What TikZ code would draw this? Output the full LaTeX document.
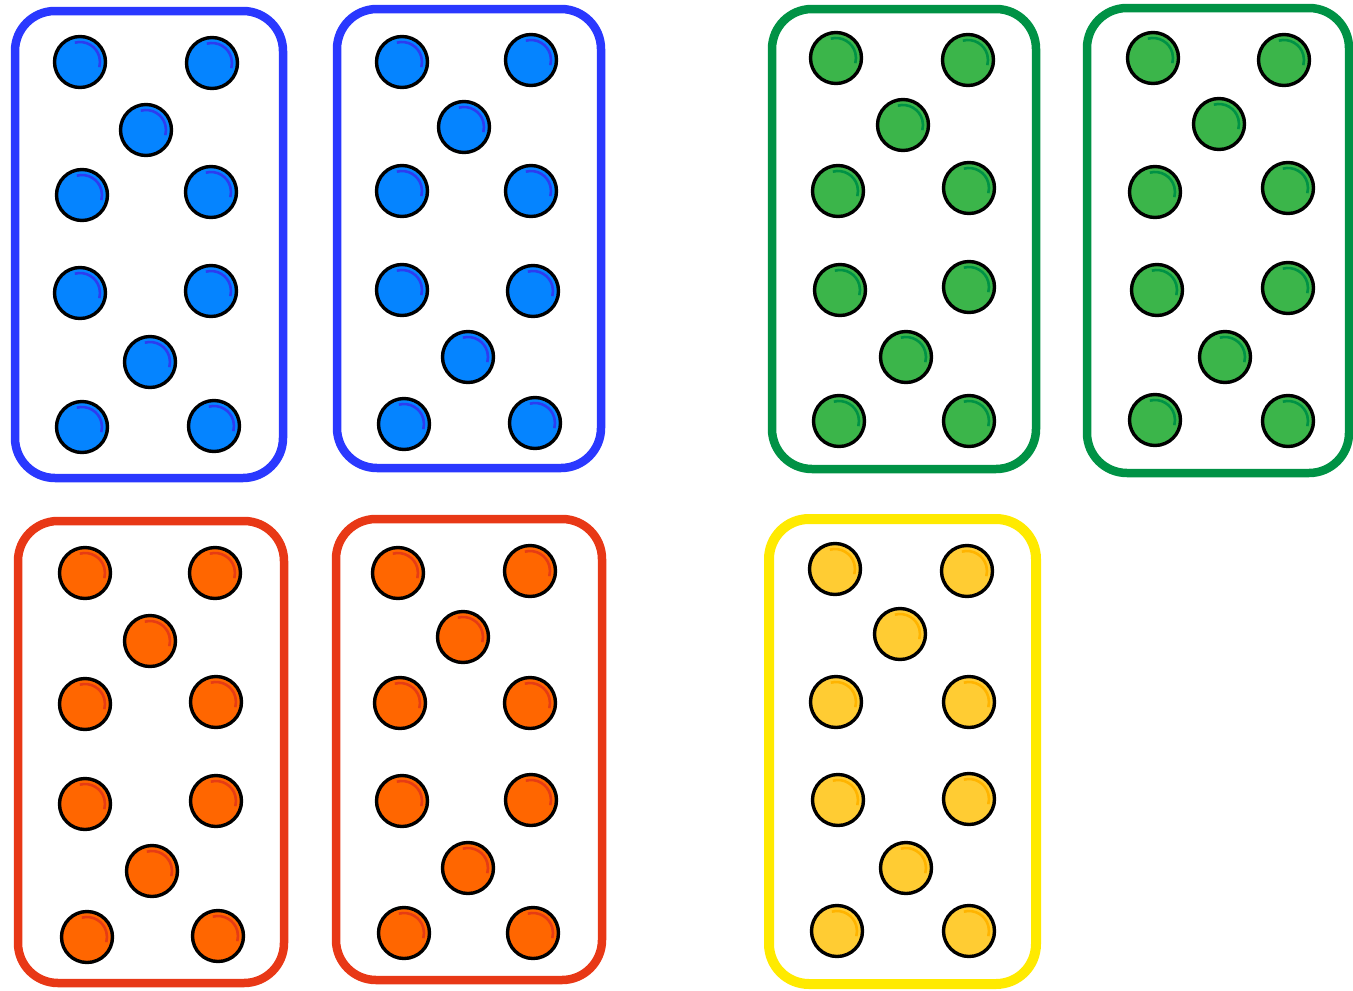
\documentclass[tikz,border=0pt]{standalone}
\definecolor{bluefill}{RGB}{5,132,255}
\definecolor{bluearc}{RGB}{45,60,240}
\definecolor{bluecard}{RGB}{42,56,255}
\definecolor{greenfill}{RGB}{59,181,74}
\definecolor{greenarc}{RGB}{0,146,69}
\definecolor{greencard}{RGB}{0,146,69}
\definecolor{orangefill}{RGB}{255,102,0}
\definecolor{orangearc}{RGB}{230,60,20}
\definecolor{redcard}{RGB}{232,56,22}
\definecolor{yellowfill}{RGB}{255,204,51}
\definecolor{yellowarc}{RGB}{255,180,0}
\definecolor{yellowcard}{RGB}{255,234,0}
\newcommand{\mydot}[4]{%
  \fill[#3] (#1,#2) circle (25.5);
  \draw[#4,line width=2.6] ([shift={(-105:20)}]#1,#2) arc (-105:15:20);
  \draw[black,line width=3.4] (#1,#2) circle (25.5);
}
\newcommand{\mycard}[6]{%
  \draw[#5,line width=#6,rounded corners=40] (#1,#2) rectangle (#3,#4);
}
\begin{document}
\begin{tikzpicture}[x=1pt,y=-1pt]
\useasboundingbox (0,0) rectangle (1353,991);
% cards
\mycard{15}{11}{283}{478}{bluecard}{8.5}
\mycard{337}{9}{601}{468}{bluecard}{8.5}
\mycard{772}{9}{1036}{469}{greencard}{8.5}
\mycard{1087}{8}{1349}{473}{greencard}{8.5}
\mycard{18}{521}{284}{983}{redcard}{8.5}
\mycard{336}{519}{602}{980}{redcard}{8.5}
\mycard{769}{519}{1036}{984}{yellowcard}{10}
% blue 1
\foreach \x/\y in {80/62,212/63,146/130,82/195,211/192,80/293,211/291,150/362,82/427,214/426}
  {\mydot{\x}{\y}{bluefill}{bluearc}}
% blue 2
\foreach \x/\y in {402/62,531/60,464/127,402/191,531/191,402/290,533/291,468/357,404/424,535/423}
  {\mydot{\x}{\y}{bluefill}{bluearc}}
% green 1
\foreach \x/\y in {836/58,968/60,903/125,838/191,969/188,840/290,969/287,906/357,839/421,969/421}
  {\mydot{\x}{\y}{greenfill}{greenarc}}
% green 2
\foreach \x/\y in {1153/58,1284/60,1219/124,1155/192,1288/188,1157/290,1288/288,1225/357,1155/420,1288/421}
  {\mydot{\x}{\y}{greenfill}{greenarc}}
% red 1
\foreach \x/\y in {85/573,215/573,150/641,85/704,216/702,85/804,216/801,152/871,87/937,218/936}
  {\mydot{\x}{\y}{orangefill}{orangearc}}
% red 2
\foreach \x/\y in {398/573,530/571,463/637,400/703,530/703,402/801,531/800,468/868,404/933,533/933}
  {\mydot{\x}{\y}{orangefill}{orangearc}}
% yellow
\foreach \x/\y in {835/569,967/571,900/634,836/702,969/702,838/800,969/799,906/868,837/931,969/931}
  {\mydot{\x}{\y}{yellowfill}{yellowarc}}
\end{tikzpicture}
\end{document}
